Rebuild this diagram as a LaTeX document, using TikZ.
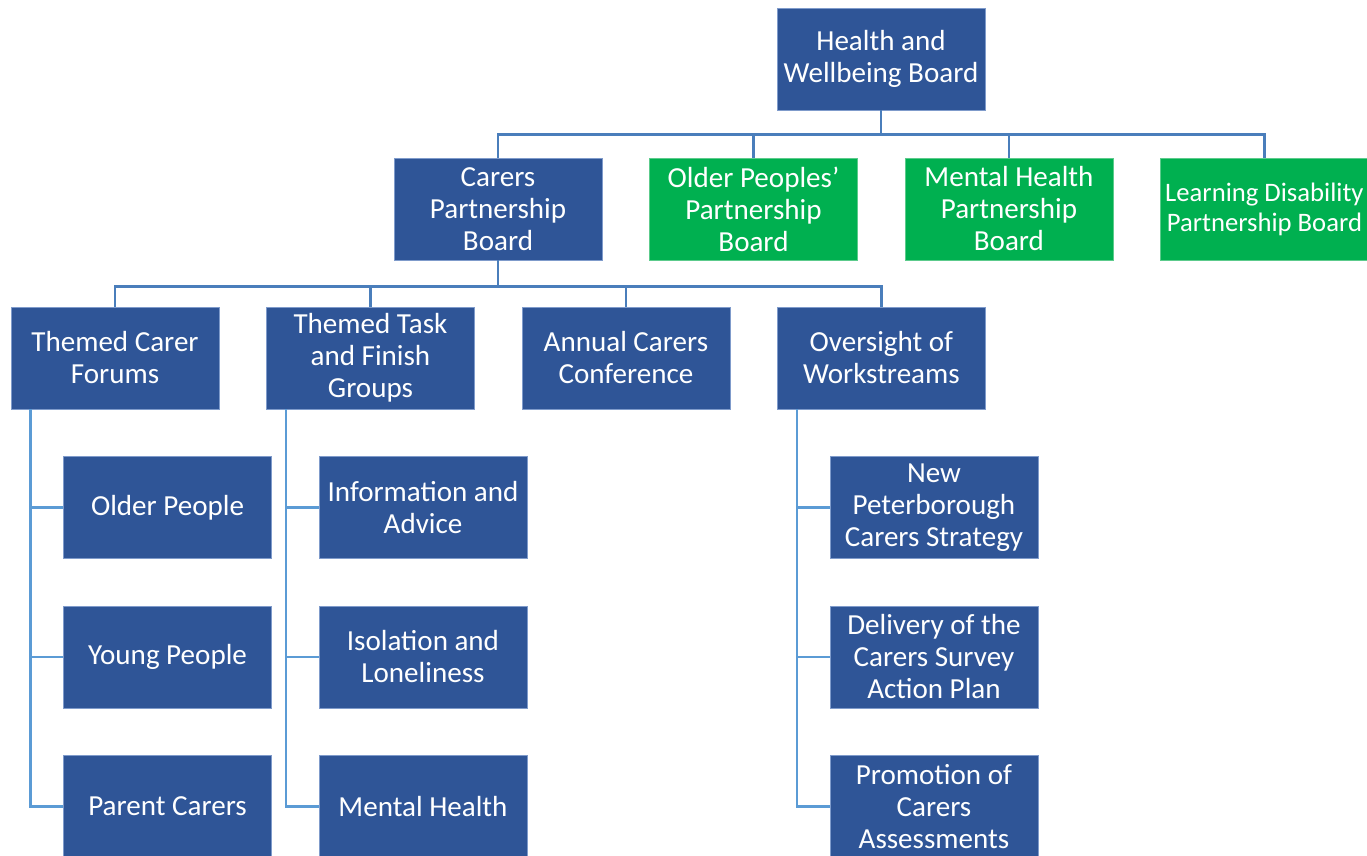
\documentclass[tikz,border=0pt]{standalone}
\usepackage{fontspec}
\setmainfont{Carlito}
\usetikzlibrary{positioning}
\definecolor{boardblue}{HTML}{2F5597}
\definecolor{boardgreen}{HTML}{00B050}
\definecolor{edgeblue}{HTML}{7F9BCB}
\definecolor{edgegreen}{HTML}{5CCB8C}
\definecolor{linktop}{HTML}{4A7EBB}
\definecolor{linkside}{HTML}{5B9BD5}
\tikzset{
    %Define style for boxes
    board/.style={
           rectangle,
           fill=boardblue,
           draw=edgeblue, line width=0.6pt,
           text=white,
           minimum width=156pt,
           minimum height=76.5pt,
           inner sep=1pt,
           align=center,
           font=\fontsize{21.8pt}{24pt}\selectfont},
    greenboard/.style={
           board,
           fill=boardgreen,
           draw=edgegreen},
    % Define connector styles
    link/.style={
           draw=linktop,
           line width=2pt},
    sidelink/.style={
           draw=linkside,
           line width=2pt}
}
\begin{document}
\begin{tikzpicture}[x=0.75pt,y=-0.75pt,node distance=35pt]
\useasboundingbox (0,0) rectangle (1367,856);
\clip (0,0) rectangle (1367,856);

\node[board] (hwb) at (881,59) {Health and\\Wellbeing Board};

\node[board] (carers) at (498,209) {Carers\\Partnership\\Board};
\node[greenboard, right=of carers] (older) {Older Peoples'\\Partnership\\Board};
\node[greenboard, right=of older] (mental) {Mental Health\\Partnership\\Board};
\node[greenboard, right=of mental, font=\fontsize{20pt}{22.5pt}\selectfont] (learning) {Learning Disability\\Partnership Board};

\node[board] (forums) at (115,358) {Themed Carer\\Forums};
\node[board, right=of forums] (tasks) {Themed Task\\and Finish\\Groups};
\node[board, right=of tasks] (conference) {Annual Carers\\Conference};
\node[board, right=of conference] (oversight) {Oversight of\\Workstreams};

% forums
\node[board, below=of forums, xshift=39.4pt] (oldpeople) {Older People};
\node[board, below=of oldpeople] (young) {Young People};
\node[board, below=of young] (parents) {Parent Carers};

% task and finish groups
\node[board, below=of tasks, xshift=39.4pt] (advice) {Information and\\Advice};
\node[board, below=of advice] (isolation) {Isolation and\\Loneliness};
\node[board, below=of isolation] (mentalhealth) {Mental Health};

% workstreams
\node[board, below=of oversight, xshift=39.4pt] (strategy) {New\\Peterborough\\Carers Strategy};
\node[board, below=of strategy] (survey) {Delivery of the\\Carers Survey\\Action Plan};
\node[board, below=of survey] (assess) {Promotion of\\Carers\\Assessments};

\foreach \sub in {carers,older,mental,learning}
    \draw[link] (hwb.south) -- ++(0,24) -| (\sub.north);
\foreach \sub in {forums,tasks,conference,oversight}
    \draw[link] (carers.south) -- ++(0,26) -| (\sub.north);

\coordinate (forums-spine) at ([xshift=15pt]forums.south west);
\coordinate (tasks-spine) at ([xshift=15pt]tasks.south west);
\coordinate (oversight-spine) at ([xshift=15pt]oversight.south west);

\foreach \sub in {oldpeople,young,parents}
    \draw[sidelink] (forums-spine) |- (\sub.west);
\foreach \sub in {advice,isolation,mentalhealth}
    \draw[sidelink] (tasks-spine) |- (\sub.west);
\foreach \sub in {strategy,survey,assess}
    \draw[sidelink] (oversight-spine) |- (\sub.west);

\end{tikzpicture}
\end{document}
